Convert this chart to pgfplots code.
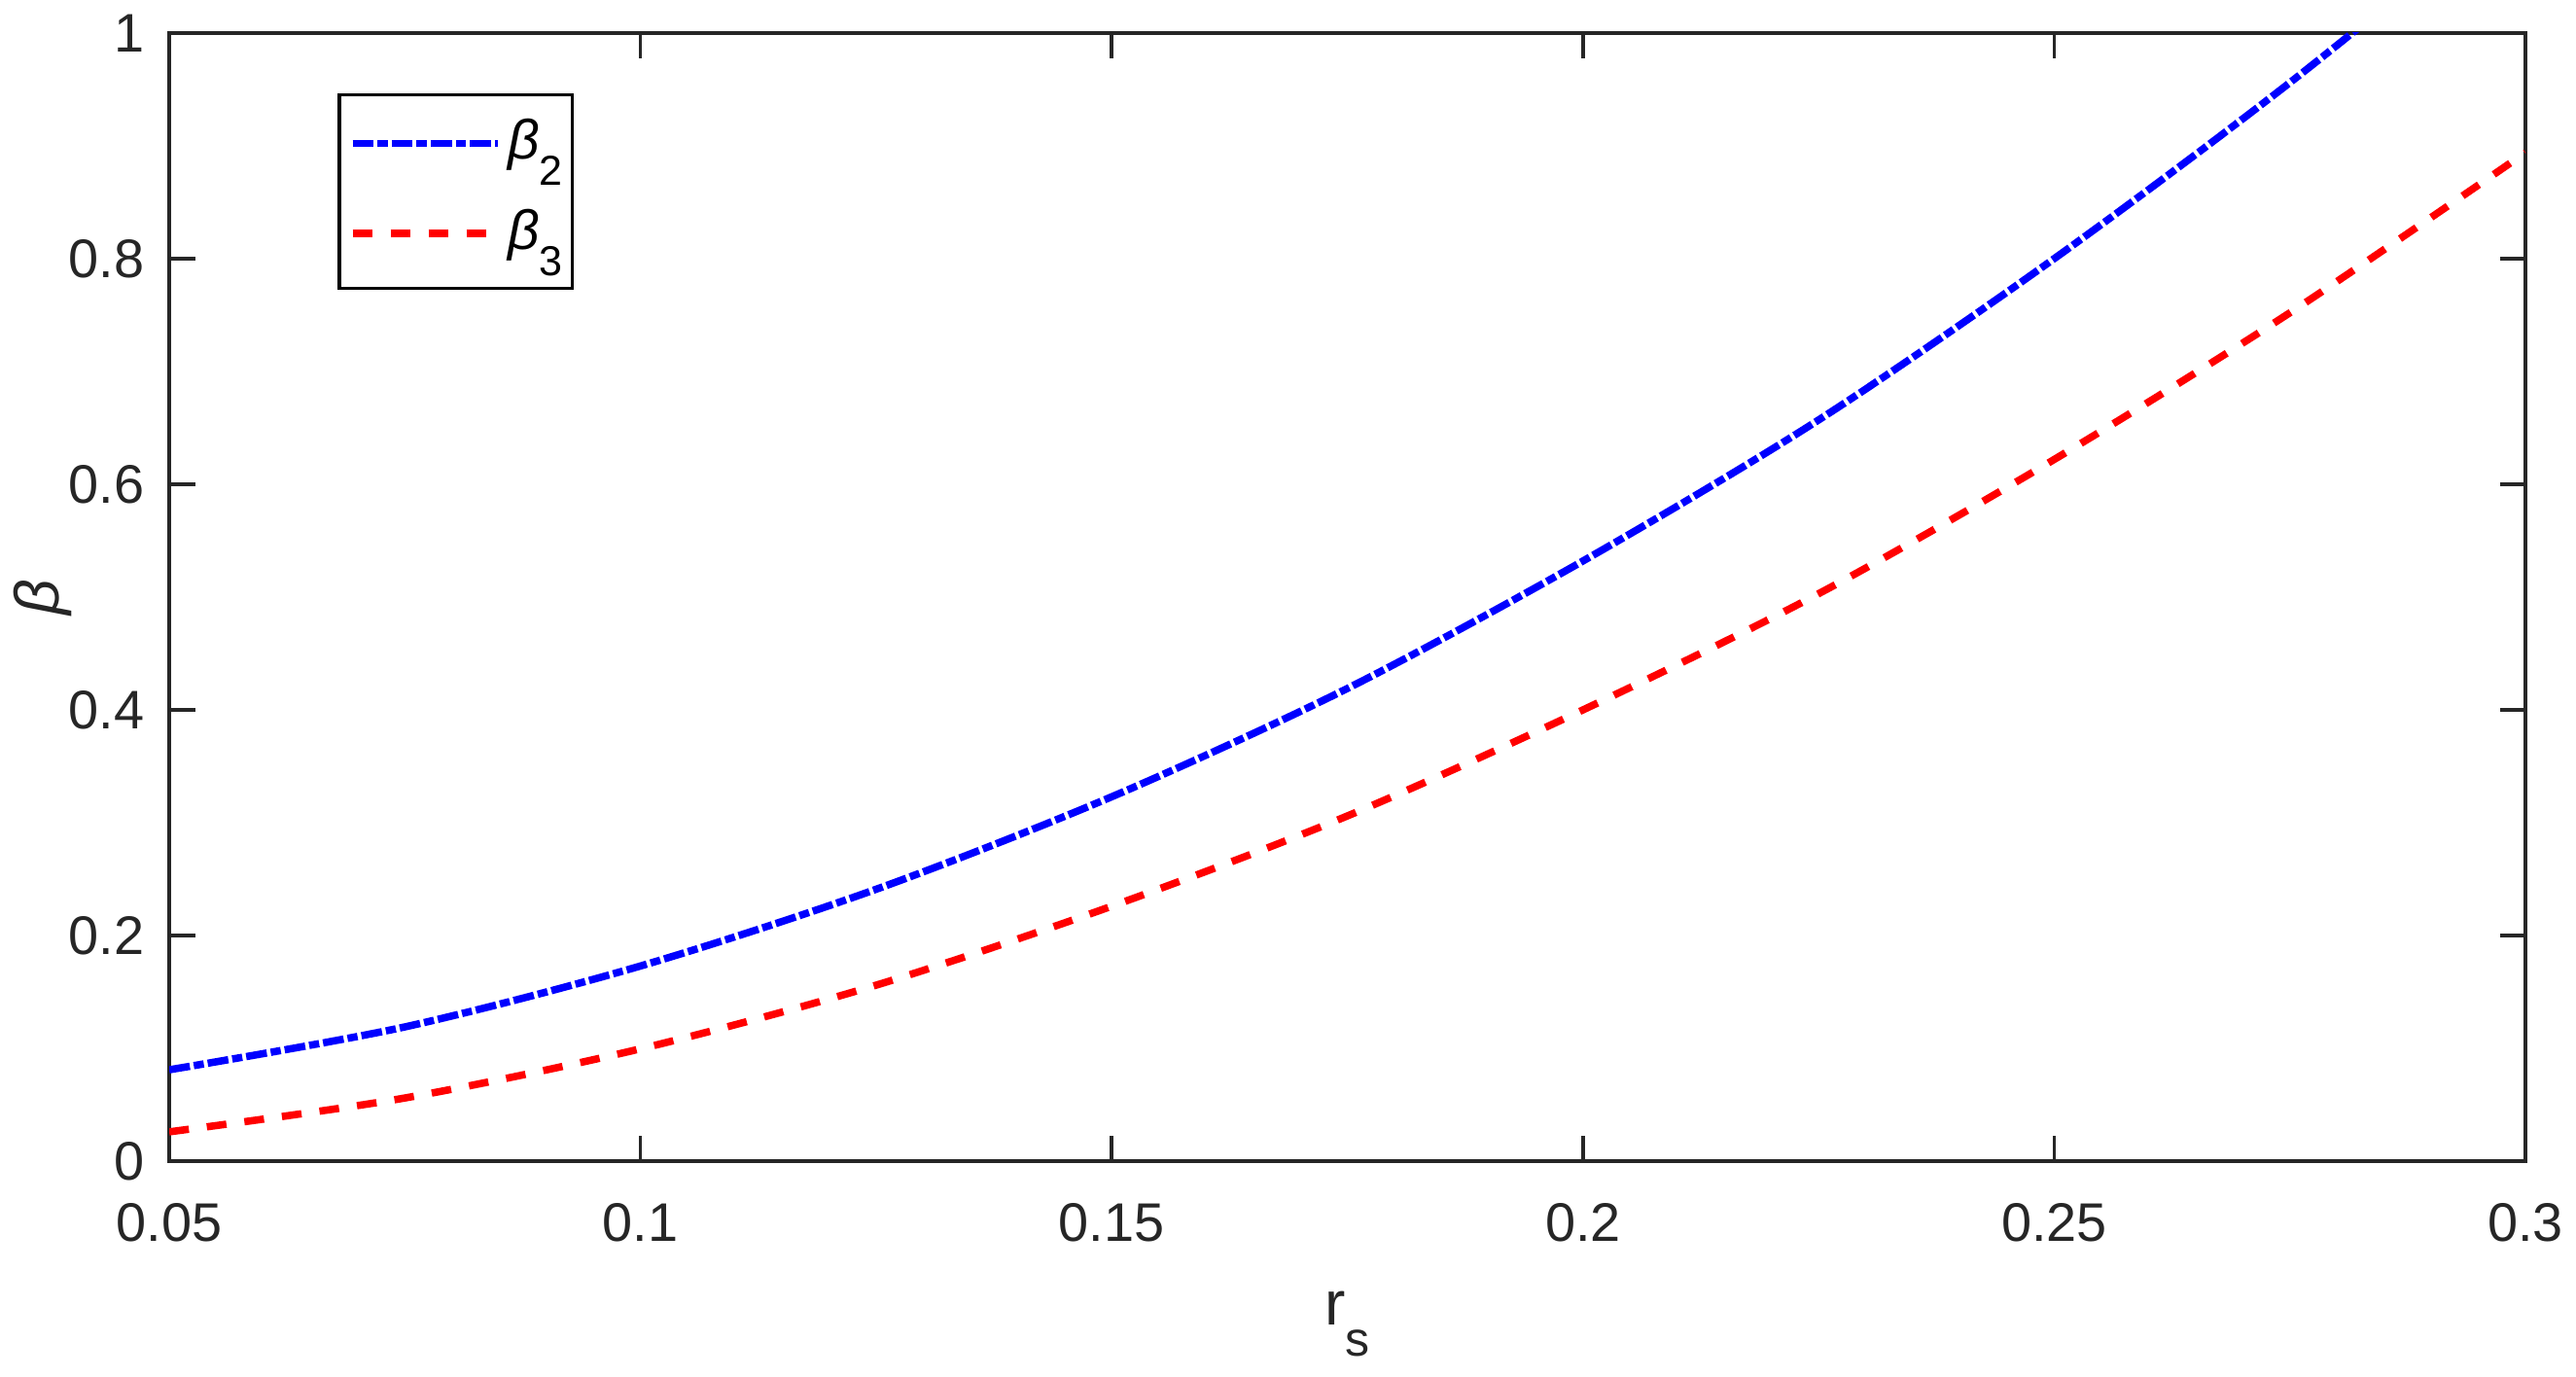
\documentclass[border=0pt]{standalone}
\usepackage{pgfplots}
\pgfplotsset{compat=1.18}
\usepackage{fontspec}
\setmainfont{Liberation Sans}
\definecolor{axgray}{gray}{0.15}
% subscript as the reference sets it: smaller and set well below the baseline
\newcommand{\sub}[1]{\raisebox{-4.6pt}{\fontsize{7.4}{8}\selectfont #1}}

\begin{document}
\begin{tikzpicture}
% page size with the reference's proportions (axis box at (0,0)--(14.635,7.007))
\useasboundingbox (-1.051cm,-1.335cm) rectangle (14.949cm,7.212cm);
\begin{axis}[
    width=14.635cm, height=7.007cm,
    scale only axis,
    xmin=0.05, xmax=0.3,
    ymin=0, ymax=1,
    clip=true,
    xtick={0.05,0.1,0.15,0.2,0.25,0.3},
    ytick={0,0.2,0.4,0.6,0.8,1},
    tick align=inside,
    major tick length=0.16cm,
    axis line style={axgray, line width=0.6pt},
    every tick/.style={axgray, line width=0.6pt},
    tick label style={font=\fontsize{9.6}{11}\selectfont, text=axgray},
    xticklabel style={yshift=-0.14cm},
    yticklabel style={xshift=-0.03cm},
    /pgf/number format/.cd, fixed, precision=2, assume math mode=true,
    /pgfplots/.cd,
    xlabel={r\raisebox{-5.5pt}{\fontsize{8.6}{9}\selectfont s}},
    ylabel={\textit{β}},
    label style={font=\fontsize{11}{12}\selectfont, text=axgray},
    xlabel style={at={(axis description cs:0.5,0)}, anchor=north,
        inner sep=0pt, yshift=-0.805cm},
    ylabel style={at={(axis description cs:-0.0536,0.5)}, anchor=center,
        inner sep=0pt},
    legend style={at={(0.0715,0.9465)}, anchor=north west,
        draw=black, line width=0.6pt, font=\fontsize{9.8}{11}\selectfont,
        inner xsep=0.06cm, inner ysep=0.14cm, row sep=0.2cm, column sep=0.04cm,
        nodes={inner sep=0pt, text height=0.26cm, text depth=0.1cm}},
    legend cell align=left,
    legend image code/.code={\draw[#1, line width=1.3pt] (0cm,0.02cm) -- (0.9cm,0.02cm);},
]
% beta_2 leaves the top of the box near r_s = 0.281; the axis clips it there
\addplot[blue, line width=1.3pt, smooth,
    dash pattern=on 3.7pt off 0.7pt on 1.8pt off 0.7pt] coordinates {
    (0.05,0.081)(0.075,0.119)(0.1,0.173)(0.125,0.241)(0.15,0.323)
    (0.175,0.419)(0.2,0.532)(0.225,0.657)(0.25,0.800)(0.275,0.956)(0.3,1.125)
};
\addlegendentry{\textit{β}\sub{2}}
\addplot[red, line width=1.3pt, smooth,
    dash pattern=on 3.5pt off 3.2pt] coordinates {
    (0.05,0.026)(0.075,0.056)(0.1,0.0996)(0.125,0.156)(0.15,0.226)
    (0.175,0.306)(0.2,0.400)(0.225,0.503)(0.25,0.622)(0.275,0.752)(0.3,0.894)
};
\addlegendentry{\textit{β}\sub{3}}
\end{axis}
\end{tikzpicture}
\end{document}
